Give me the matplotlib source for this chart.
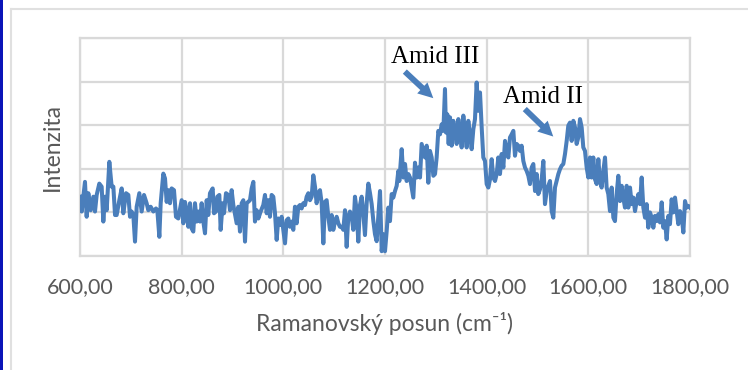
import matplotlib
matplotlib.use("Agg")
import matplotlib.pyplot as plt
from matplotlib.patches import Rectangle
from matplotlib.lines import Line2D
from matplotlib.ticker import FixedLocator, FuncFormatter

# ---- data ----
wavenumber = [
    600.0, 603.3, 609.8, 613.1, 616.4, 621.0, 626.2, 629.5, 632.8, 638.0,
    642.6, 645.9, 649.2, 652.5, 657.7, 662.3, 665.6, 668.9, 672.1, 677.4,
    682.0, 685.2, 690.5, 695.1, 698.4, 701.6, 704.9, 708.2, 711.5, 716.7,
    721.3, 725.9, 731.1, 734.4, 739.0, 744.3, 749.5, 752.1, 756.1, 758.7,
    763.9, 767.2, 770.5, 773.8, 777.0, 780.3, 784.9, 788.8, 793.4, 800.0,
    803.3, 806.5, 809.8, 813.1, 816.4, 819.7, 822.9, 826.2, 829.5, 832.8,
    836.1, 839.3, 842.6, 845.9, 849.2, 852.4, 855.7, 861.0, 863.6, 867.5,
    870.2, 874.1, 876.7, 880.6, 883.3, 887.2, 891.8, 895.1, 898.3, 901.6,
    908.2, 911.5, 914.7, 918.0, 921.3, 924.6, 927.9, 934.4, 937.7, 941.0,
    944.2, 947.5, 950.8, 955.4, 960.6, 963.9, 967.2, 970.5, 973.7, 977.0,
    980.3, 983.6, 986.9, 990.1, 993.4, 996.7, 1000.0, 1003.3, 1006.5, 1009.8,
    1013.1, 1016.4, 1019.6, 1022.9, 1026.2, 1029.5, 1032.8, 1036.0, 1039.3, 1042.6,
    1045.9, 1049.2, 1052.4, 1055.7, 1059.0, 1062.3, 1065.5, 1068.8, 1072.1, 1075.4,
    1078.7, 1081.9, 1085.2, 1088.5, 1091.8, 1095.1, 1098.3, 1101.6, 1104.9, 1108.2,
    1111.4, 1114.7, 1118.0, 1121.3, 1124.6, 1127.8, 1131.1, 1134.4, 1137.7, 1140.9,
    1144.2, 1147.5, 1150.8, 1154.1, 1157.3, 1160.6, 1163.9, 1167.2, 1170.5, 1173.8,
    1177.1, 1180.3, 1183.6, 1186.9, 1190.2, 1193.5, 1196.7, 1200.0, 1203.3, 1206.6,
    1209.8, 1213.1, 1216.4, 1219.7, 1223.0, 1226.2, 1228.2, 1232.8, 1236.2, 1239.4,
    1242.6, 1245.9, 1249.2, 1252.5, 1255.7, 1259.0, 1262.3, 1265.6, 1268.9, 1272.1,
    1275.4, 1278.7, 1282.0, 1285.2, 1288.5, 1291.8, 1295.1, 1298.4, 1301.6, 1304.9,
    1308.2, 1311.5, 1314.8, 1318.0, 1320.0, 1322.6, 1325.2, 1327.9, 1331.1, 1334.4,
    1337.7, 1341.0, 1344.3, 1347.5, 1350.8, 1354.1, 1357.4, 1360.7, 1363.9, 1367.2,
    1370.5, 1373.8, 1377.0, 1380.3, 1383.6, 1386.9, 1390.2, 1393.4, 1396.7, 1400.0,
    1403.3, 1406.6, 1409.8, 1413.1, 1416.4, 1419.7, 1422.9, 1426.2, 1429.5, 1432.8,
    1436.1, 1439.3, 1442.6, 1445.9, 1449.2, 1452.5, 1455.7, 1459.0, 1462.3, 1465.6,
    1468.8, 1472.1, 1475.4, 1478.7, 1482.0, 1485.2, 1488.5, 1491.8, 1495.1, 1498.4,
    1501.6, 1504.9, 1508.2, 1511.5, 1514.7, 1518.0, 1521.3, 1524.6, 1527.9, 1531.1,
    1534.4, 1537.7, 1541.0, 1544.2, 1547.5, 1550.8, 1554.1, 1557.4, 1560.6, 1563.9,
    1567.2, 1570.5, 1573.8, 1577.0, 1580.3, 1583.6, 1586.9, 1590.1, 1593.4, 1596.7,
    1600.0, 1603.3, 1606.5, 1609.8, 1613.1, 1616.4, 1619.7, 1622.9, 1626.2, 1629.5,
    1632.8, 1636.0, 1639.3, 1642.6, 1645.9, 1649.2, 1652.4, 1655.7, 1659.0, 1662.3,
    1665.6, 1668.8, 1672.1, 1675.4, 1678.7, 1682.0, 1685.2, 1688.5, 1691.8, 1695.1,
    1698.4, 1701.6, 1704.9, 1708.2, 1711.5, 1714.7, 1718.0, 1721.3, 1724.6, 1727.9,
    1731.1, 1734.4, 1737.7, 1741.0, 1744.3, 1747.5, 1750.8, 1754.1, 1757.4, 1760.6,
    1763.9, 1767.2, 1770.5, 1773.8, 1777.0, 1780.3, 1783.6, 1786.9, 1790.2, 1793.4,
    1796.7, 1800.0,
]
intensity = [
    1.36, 1.02, 1.70, 0.90, 1.44, 1.05, 1.36, 1.02, 1.40, 1.66,
    1.59, 0.79, 1.36, 1.05, 2.16, 1.59, 1.59, 0.94, 0.94, 1.28,
    1.55, 0.98, 1.44, 1.40, 0.90, 1.02, 0.94, 0.33, 1.13, 1.44,
    1.02, 1.40, 1.21, 1.05, 1.13, 1.02, 1.09, 1.05, 0.44, 1.21,
    1.89, 1.78, 1.24, 1.51, 1.21, 1.55, 1.51, 0.90, 0.86, 1.28,
    0.75, 1.24, 1.02, 0.67, 1.21, 0.63, 0.56, 1.21, 0.79, 1.02,
    0.79, 1.21, 0.79, 0.52, 1.28, 0.94, 1.44, 1.55, 0.98, 1.02,
    1.36, 1.40, 0.60, 1.21, 0.98, 1.44, 1.40, 1.05, 1.51, 1.17,
    0.75, 1.13, 0.56, 1.21, 1.28, 0.33, 1.21, 1.28, 1.55, 1.70,
    0.79, 1.05, 0.86, 1.02, 1.17, 1.40, 0.98, 1.28, 0.90, 1.40,
    1.36, 0.98, 0.37, 0.86, 0.71, 0.90, 0.60, 0.29, 0.82, 0.86,
    0.67, 0.79, 0.60, 1.13, 0.75, 1.13, 1.17, 1.09, 1.21, 1.17,
    1.36, 1.44, 1.28, 1.36, 1.85, 1.59, 1.21, 1.44, 1.51, 1.21,
    0.29, 1.24, 1.28, 0.90, 0.60, 0.94, 0.60, 0.79, 0.90, 0.75,
    0.67, 0.67, 0.60, 1.05, 0.21, 0.90, 1.02, 0.90, 0.60, 1.36,
    1.05, 0.33, 1.17, 1.36, 0.98, 0.48, 1.21, 1.66, 1.44, 1.19,
    0.80, 0.50, 0.34, 0.92, 1.49, 0.11, 0.50, 0.11, 0.57, 1.11,
    0.80, 1.42, 1.34, 1.49, 1.61, 1.95, 1.72, 2.45, 1.80, 2.11,
    1.72, 1.88, 1.80, 1.57, 1.34, 2.14, 1.80, 2.03, 1.80, 2.57,
    2.41, 2.26, 2.53, 1.68, 2.41, 2.26, 1.84, 1.88, 2.26, 2.87,
    2.79, 3.02, 2.87, 3.83, 2.83, 3.25, 2.57, 3.18, 2.53, 3.10,
    2.87, 2.57, 3.14, 2.87, 2.49, 3.22, 2.83, 2.49, 3.10, 2.79,
    2.45, 2.91, 3.14, 3.98, 3.33, 3.75, 2.95, 2.26, 2.18, 1.65,
    1.57, 1.76, 2.22, 1.80, 1.72, 1.88, 2.26, 1.88, 2.34, 2.03,
    2.64, 2.41, 2.26, 2.72, 2.79, 2.87, 2.30, 2.57, 2.53, 2.41,
    2.53, 2.18, 2.03, 1.95, 1.84, 1.65, 2.03, 2.11, 1.49, 1.88,
    1.42, 1.53, 1.76, 2.18, 1.19, 1.49, 1.61, 1.72, 1.03, 0.88,
    1.57, 1.72, 1.88, 1.99, 2.07, 2.11, 2.34, 2.64, 2.99, 3.06,
    2.64, 3.10, 2.95, 2.57, 2.72, 3.14, 2.95, 2.49, 2.41, 2.03,
    1.80, 2.26, 1.80, 2.26, 1.76, 1.65, 2.22, 1.72, 1.57, 1.95,
    2.26, 1.57, 1.42, 1.03, 1.57, 0.88, 0.80, 1.42, 1.84, 1.26,
    1.61, 1.34, 1.11, 1.61, 1.11, 1.57, 1.19, 1.34, 1.03, 1.26,
    1.42, 1.19, 1.80, 1.11, 0.88, 1.19, 0.65, 1.00, 0.88, 0.65,
    0.92, 0.80, 0.96, 0.77, 1.23, 0.65, 0.80, 0.38, 0.92, 0.73,
    1.30, 1.00, 1.34, 1.03, 0.73, 1.03, 0.92, 0.54, 1.26, 1.11,
    1.15, 1.11,
]
x_ticks = [600, 800, 1000, 1200, 1400, 1600, 1800]
y_grid = [0, 1, 2, 3, 4, 5]
x_label = "Ramanovský posun (cm\u207b\u00b9)"
y_label = "Intenzita"
annotations = [
    # text, text position (x, y), arrow tail, arrow tip
    ("Amid III", (1299, 4.57), (1239, 4.23), (1295, 3.62)),
    ("Amid II", (1511, 3.65), (1475, 3.37), (1531, 2.74)),
]

# ---- styling ----
line_color = "#4A7EBB"
grid_color = "#D9D9D9"
text_color = "#595959"
sans = ["Lato", "DejaVu Sans"]

fig = plt.figure(figsize=(7.48, 3.70), dpi=100)
fig.patch.set_facecolor("white")

# decorative frame: blue strip at left and light chart border
fig.add_artist(Rectangle((0, 0), 3 / 748, 1, transform=fig.transFigure,
                         facecolor="#0A14B8", edgecolor="none"))
fig.add_artist(Line2D([10.5 / 748, 10.5 / 748], [0, 1 - 8.5 / 370],
                      transform=fig.transFigure, color="#E0E0E0", lw=1.5))
fig.add_artist(Line2D([10.5 / 748, 1], [1 - 8.5 / 370, 1 - 8.5 / 370],
                      transform=fig.transFigure, color="#E0E0E0", lw=1.5))

ax = fig.add_axes([80 / 748, 1 - 256 / 370, 610 / 748, 218 / 370])
ax.set_xlim(600, 1800)
ax.set_ylim(0, 5)

ax.plot(wavenumber, intensity, color=line_color, lw=2.9,
        solid_joinstyle="round", zorder=3)

ax.xaxis.set_major_locator(FixedLocator(x_ticks))
ax.yaxis.set_major_locator(FixedLocator(y_grid))
ax.xaxis.set_major_formatter(FuncFormatter(lambda v, p: f"{v:.2f}".replace(".", ",")))
ax.set_yticklabels([])
ax.tick_params(axis="both", length=0)
ax.tick_params(axis="x", pad=15, labelsize=15.5, labelcolor=text_color)
for lab in ax.get_xticklabels():
    lab.set_family(sans)

ax.grid(True, color=grid_color, lw=1.6, zorder=0)
ax.set_axisbelow(True)
for s in ax.spines.values():
    s.set_color(grid_color)
    s.set_linewidth(1.6)

ax.set_xlabel(x_label, family=sans, fontsize=16.5, color=text_color, labelpad=11)
ax.set_ylabel(y_label, family=sans, fontsize=16.5, color=text_color, labelpad=9)

for text, tpos, tail, tip in annotations:
    ax.text(tpos[0], tpos[1], text, family="Liberation Serif", fontsize=18,
            ha="center", va="center", color="black", zorder=5)
    ax.annotate("", xy=tip, xytext=tail,
                arrowprops=dict(arrowstyle="simple,head_length=0.9,head_width=0.9,tail_width=0.35",
                                color=line_color, lw=0, shrinkA=0, shrinkB=0,
                                mutation_scale=12), zorder=5)

fig.savefig("out.png", dpi=100, facecolor="white")
